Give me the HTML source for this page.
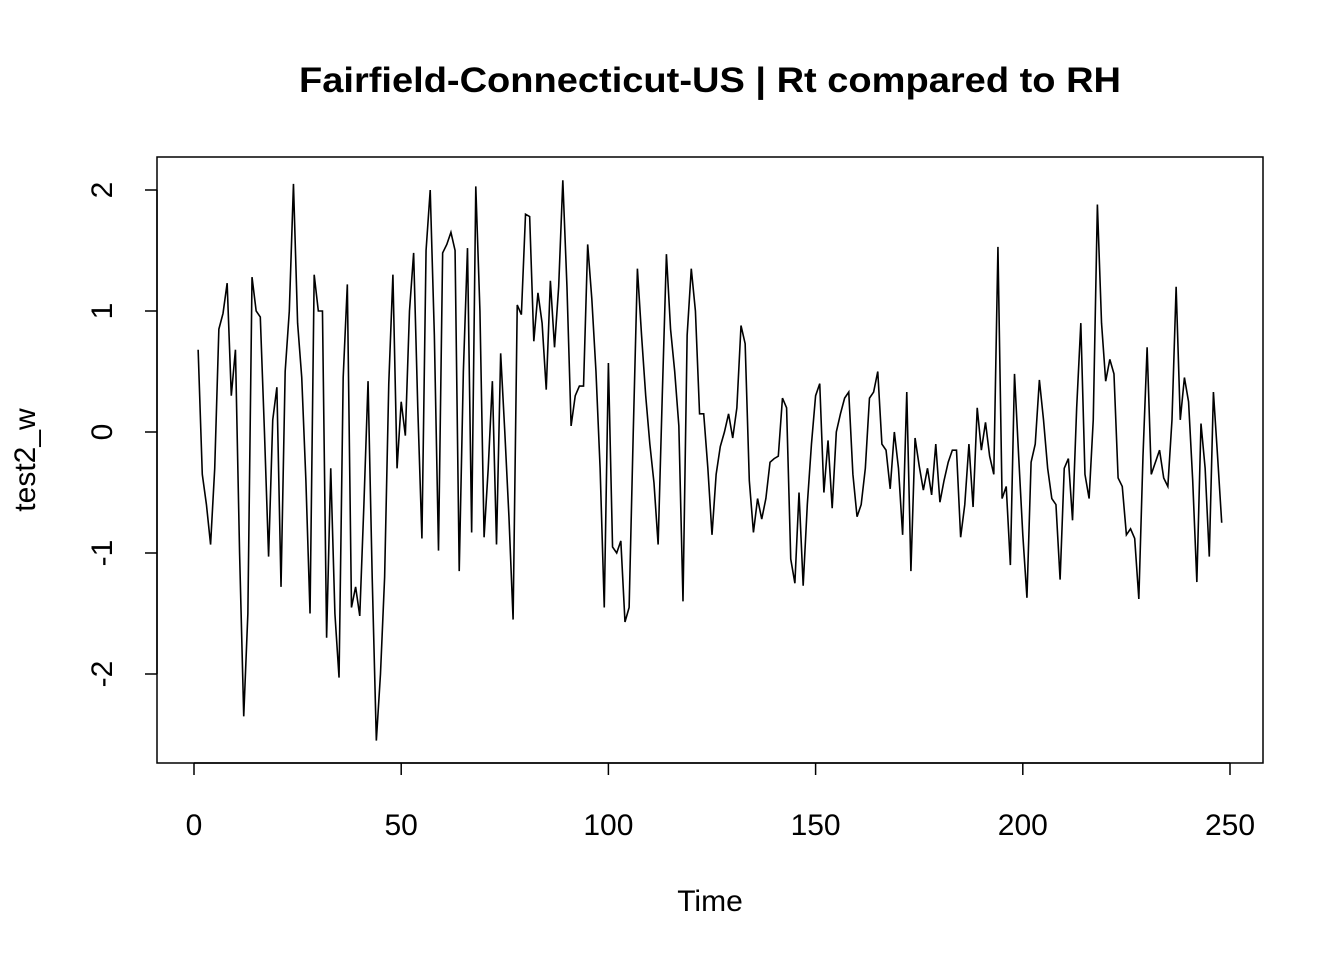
<!DOCTYPE html>
<html><head><meta charset="utf-8"><style>
html,body{margin:0;padding:0;background:#fff;}
svg{display:block;font-family:"Liberation Sans",Arial,sans-serif;}
</style></head><body>
<svg id="chart" width="1344" height="960" xmlns="http://www.w3.org/2000/svg">
<rect width="1344" height="960" fill="#fff"/>
<text x="710" y="92" text-anchor="middle" font-size="35" font-weight="bold" textLength="822" lengthAdjust="spacingAndGlyphs">Fairfield-Connecticut-US | Rt compared to RH</text>
<rect x="157" y="157" width="1106" height="606" fill="none" stroke="#000" stroke-width="1.5"/>
<g id="xaxis"></g>
<g id="yaxis"></g>
<path id="line" fill="none" stroke="#000" stroke-width="1.6"/>
<text x="710" y="911" text-anchor="middle" font-size="30">Time</text>
<text transform="translate(35,460) rotate(-90)" text-anchor="middle" font-size="30">test2_w</text>
</svg>
<script>
const xTicks = [0, 50, 100, 150, 200, 250];
const yTicks = [-2, -1, 0, 1, 2];
const values = [0.68,-0.35,-0.6,-0.93,-0.3,0.85,0.98,1.23,0.3,0.68,-1.0,-2.35,-1.5,1.28,1.0,0.95,0.0,-1.03,0.1,0.37,
-1.28,0.5,1.0,2.05,0.9,0.45,-0.4,-1.5,1.3,1.0,1.0,-1.7,-0.3,-1.5,-2.03,0.45,1.22,-1.45,-1.28,-1.52,
-0.6,0.42,-1.2,-2.55,-2.0,-1.2,0.4,1.3,-0.3,0.25,-0.03,1.0,1.48,0.2,-0.88,1.5,2.0,0.8,-0.98,1.48,
1.55,1.65,1.5,-1.15,0.5,1.52,-0.83,2.03,1.0,-0.87,-0.3,0.42,-0.93,0.65,0.0,-0.7,-1.55,1.05,0.97,1.8,
1.78,0.75,1.15,0.9,0.35,1.25,0.7,1.2,2.08,1.2,0.05,0.3,0.38,0.38,1.55,1.1,0.5,-0.3,-1.45,0.57,
-0.95,-1.0,-0.9,-1.57,-1.45,0.0,1.35,0.8,0.3,-0.1,-0.42,-0.93,0.3,1.47,0.85,0.5,0.05,-1.4,0.8,1.35,
1.0,0.15,0.15,-0.3,-0.85,-0.35,-0.12,0.0,0.15,-0.05,0.2,0.88,0.73,-0.4,-0.83,-0.55,-0.72,-0.55,-0.25,-0.22,
-0.2,0.28,0.2,-1.05,-1.25,-0.5,-1.27,-0.6,-0.1,0.3,0.4,-0.5,-0.07,-0.63,0.0,0.15,0.28,0.33,-0.35,-0.7,
-0.6,-0.3,0.28,0.33,0.5,-0.1,-0.15,-0.47,0.0,-0.3,-0.85,0.33,-1.15,-0.05,-0.28,-0.48,-0.3,-0.52,-0.1,-0.58,
-0.4,-0.25,-0.15,-0.15,-0.87,-0.6,-0.1,-0.62,0.2,-0.15,0.08,-0.2,-0.35,1.53,-0.55,-0.45,-1.1,0.48,-0.2,-0.85,
-1.37,-0.25,-0.1,0.43,0.1,-0.3,-0.55,-0.6,-1.22,-0.3,-0.22,-0.73,0.2,0.9,-0.35,-0.55,0.1,1.88,0.9,0.42,
0.6,0.48,-0.38,-0.45,-0.85,-0.8,-0.88,-1.38,-0.2,0.7,-0.35,-0.25,-0.15,-0.38,-0.45,0.1,1.2,0.1,0.45,0.25,
-0.4,-1.24,0.07,-0.3,-1.03,0.33,-0.2,-0.75];

const NS = "http://www.w3.org/2000/svg";
function xScale(t){ return 194 + (t) * (1230 - 194) / 250; }
function yScale(v){ return 432 - v * 121; }

const xa = document.getElementById('xaxis');
const ya = document.getElementById('yaxis');
function mk(tag, attrs, parent){ const e = document.createElementNS(NS, tag); for (const k in attrs) e.setAttribute(k, attrs[k]); parent.appendChild(e); return e; }

mk('line', {x1:xScale(xTicks[0]), x2:xScale(xTicks[xTicks.length-1]), y1:763, y2:763, stroke:'#000','stroke-width':1.5}, xa);
xTicks.forEach(t => {
  const l = mk('line', {x1:xScale(t), x2:xScale(t), y1:763, y2:775, stroke:'#000','stroke-width':1.5}, xa);
  
  
  const tx = mk('text', {x:xScale(t), y:835, 'text-anchor':'middle','font-size':30}, xa);
  tx.textContent = t;
  
  
});
mk('line', {x1:157, x2:157, y1:yScale(yTicks[0]), y2:yScale(yTicks[yTicks.length-1]), stroke:'#000','stroke-width':1.5}, ya);
yTicks.forEach(v => {
  const l = mk('line', {x1:145, x2:157, y1:yScale(v), y2:yScale(v), stroke:'#000','stroke-width':1.5}, ya);
  
  
  const tx = mk('text', {transform:'translate(112,'+yScale(v)+') rotate(-90)', 'text-anchor':'middle','font-size':30}, ya);
  tx.textContent = v;
  
  
});
let d = '';
values.forEach((v, i) => { d += (i ? 'L' : 'M') + xScale(i + 1).toFixed(2) + ',' + yScale(v).toFixed(2); });
document.getElementById('line').setAttribute('d', d);
</script>
</body></html>
